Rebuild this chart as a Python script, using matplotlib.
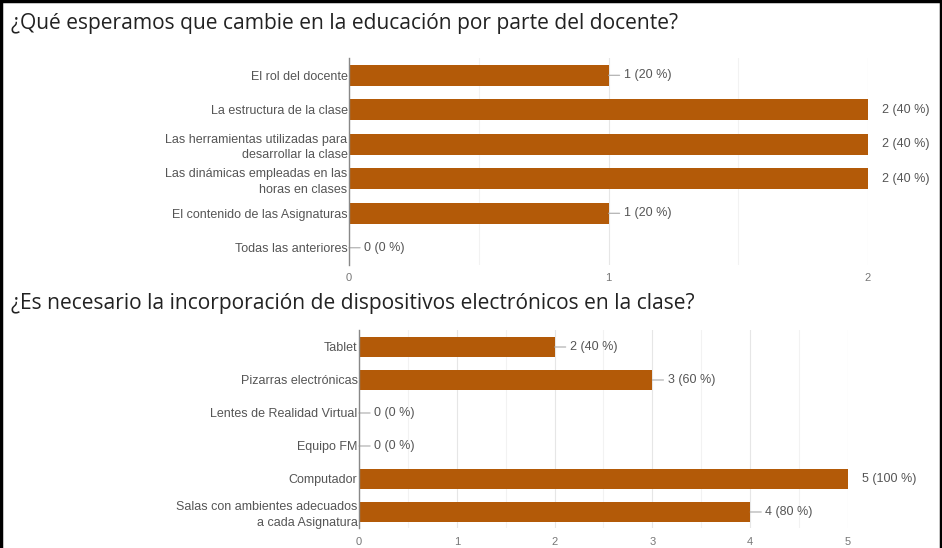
import matplotlib.pyplot as plt
from matplotlib.lines import Line2D

# data
q1_title = '¿Qué esperamos que cambie en la educación por parte del docente?'
q1_labels = ['El rol del docente', 'La estructura de la clase',
             'Las herramientas utilizadas para\ndesarrollar la clase',
             'Las dinámicas empleadas en las\nhoras en clases',
             'El contenido de las Asignaturas', 'Todas las anteriores']
q1_counts = [1, 2, 2, 2, 1, 0]
q1_pct = [20, 40, 40, 40, 20, 0]

q2_title = '¿Es necesario la incorporación de dispositivos electrónicos en la clase?'
q2_labels = ['Tablet', 'Pizarras electrónicas', 'Lentes de Realidad Virtual',
             'Equipo FM', 'Computador',
             'Salas con ambientes adecuados\na cada Asignatura']
q2_counts = [2, 3, 0, 0, 5, 4]
q2_pct = [40, 60, 0, 0, 100, 80]

BAR = '#b35a08'
TXT = '#555555'
LABEL_FONT = 'Liberation Sans'
FS = 9.0

fig = plt.figure(figsize=(9.42, 5.48), dpi=100)


def draw(ax, labels, counts, pct, xmax):
    y = list(range(len(labels)))
    ax.barh(y, counts, height=0.6, color=BAR, zorder=3)
    ax.set_ylim(len(labels) - 0.5, -0.5)
    ax.set_xlim(0, xmax)
    ax.set_yticks(y)
    ax.set_yticklabels(labels, fontsize=FS, color=TXT, family=LABEL_FONT,
                       linespacing=1.4)
    ax.set_xticks(range(xmax + 1))
    ax.set_xticks([i + 0.5 for i in range(xmax)], minor=True)
    ax.tick_params(axis='x', length=0, labelsize=8, labelcolor='#777',
                   pad=6)
    ax.tick_params(axis='x', which='minor', length=0)
    ax.tick_params(axis='y', length=0, pad=1)
    for lbl in ax.get_xticklabels():
        lbl.set_family(LABEL_FONT)
    ax.grid(axis='x', which='major', color='#e6e6e6', lw=0.8, zorder=0)
    ax.grid(axis='x', which='minor', color='#f2f2f2', lw=0.8, zorder=0)
    for s in ['top', 'right', 'bottom']:
        ax.spines[s].set_visible(False)
    ax.spines['left'].set_color('#888')
    ax.spines['left'].set_linewidth(1.0)
    ax.spines['left'].set_zorder(4)
    top = max(counts)
    for yi, c, p in zip(y, counts, pct):
        txt = f'{c} ({p} %)'
        if c == top:
            ax.annotate(txt, (c, yi), xytext=(10, 0), textcoords='offset points',
                        va='center', ha='left', fontsize=FS, color=TXT,
                        family=LABEL_FONT, annotation_clip=False)
        else:
            ax.annotate(txt, (c, yi), xytext=(11, 0), textcoords='offset points',
                        va='center', ha='left', fontsize=FS, color=TXT,
                        family=LABEL_FONT,
                        arrowprops=dict(arrowstyle='-', color='#aaa', lw=0.8,
                                        shrinkA=1, shrinkB=0))


ax1 = fig.add_axes([0.3705, 0.5164, 0.551, 0.3777])
draw(ax1, q1_labels, q1_counts, q1_pct, 2)

ax2 = fig.add_axes([0.3811, 0.0356, 0.5191, 0.3613])
draw(ax2, q2_labels, q2_counts, q2_pct, 5)

fig.text(0.0115, 0.958, q1_title, fontsize=15.1, family='Open Sans',
         color='#222', va='center', ha='left')
fig.text(0.0115, 0.446, q2_title, fontsize=15.1, family='Open Sans',
         color='#222', va='center', ha='left')

# black frame around the screenshot
for xs, ys in [([0.001, 0.999], [0.998, 0.998]),
               ([0.0015, 0.0015], [0, 1]),
               ([0.9985, 0.9985], [0, 1])]:
    fig.add_artist(Line2D(xs, ys, color='black', lw=2.5,
                          transform=fig.transFigure))

fig.savefig('out.png', dpi=100)
